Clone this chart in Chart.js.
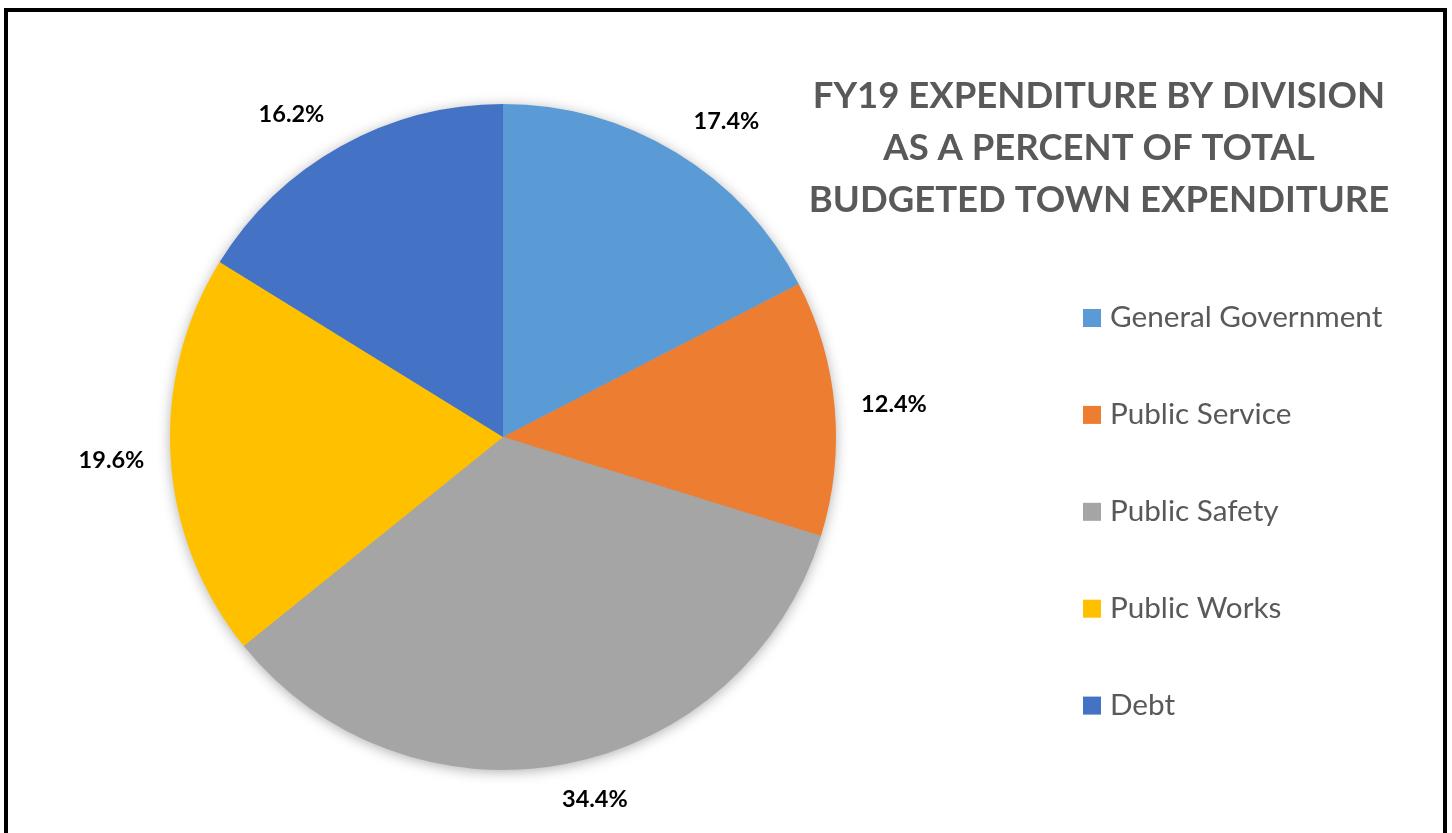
<!DOCTYPE html>
<html>
<head>
<meta charset="utf-8">
<title>FY19 Expenditure by Division</title>
<script src="https://cdn.jsdelivr.net/npm/chart.js@4"></script>
<style>
  html, body { margin: 0; padding: 0; background: #fff; overflow: hidden; }
  #wrap { position: relative; width: 1452px; height: 833px; }
  #frame {
    position: absolute; left: 4px; top: 8px;
    width: 1435px; height: 900px;
    border: 4px solid #000; border-bottom: none;
  }
  #chart { position: absolute; left: 0; top: 0; }
</style>
</head>
<body>
<div id="wrap">
  <div id="frame"></div>
  <canvas id="chart" width="1452" height="833"></canvas>
</div>
<script>
// divisions and their share of the budget (percent)
const divisions = ['General Government', 'Public Service', 'Public Safety', 'Public Works', 'Debt'];
const shares = [17.4, 12.4, 34.4, 19.6, 16.2];
const sliceColors = ['#5B9BD5', '#ED7D31', '#A5A5A5', '#FFC000', '#4472C4'];
const titleLines = ['FY19 EXPENDITURE BY DIVISION', 'AS A PERCENT OF TOTAL', 'BUDGETED TOWN EXPENDITURE'];

const FONT = 'Lato, "Open Sans", sans-serif';
const TEXT_GREY = '#595959';

// soft shadow under the whole pie, drawn once before the slices
const pieShadow = {
  id: 'pieShadow',
  beforeDatasetsDraw(chart) {
    const arc = chart.getDatasetMeta(0).data[0];
    if (!arc) return;
    const { x, y, outerRadius } = arc.getProps(['x', 'y', 'outerRadius'], true);
    const ctx = chart.ctx;
    ctx.save();
    ctx.shadowColor = 'rgba(0,0,0,0.35)';
    ctx.shadowBlur = 14;
    ctx.shadowOffsetY = 2;
    ctx.beginPath();
    ctx.arc(x, y, outerRadius - 1, 0, Math.PI * 2);
    ctx.fillStyle = '#a5a5a5';
    ctx.fill();
    ctx.restore();
  }
};

// percent labels just outside each slice
const outsideLabels = {
  id: 'outsideLabels',
  afterDatasetsDraw(chart) {
    const ctx = chart.ctx;
    const meta = chart.getDatasetMeta(0);
    ctx.save();
    ctx.font = 'bold 23.5px ' + FONT;
    ctx.fillStyle = '#000';
    ctx.textAlign = 'center';
    ctx.textBaseline = 'middle';
    meta.data.forEach((arc, i) => {
      const p = arc.getProps(['x', 'y', 'startAngle', 'endAngle', 'outerRadius'], true);
      const mid = (p.startAngle + p.endAngle) / 2;
      const ux = Math.cos(mid), uy = Math.sin(mid);
      const text = shares[i].toFixed(1) + '%';
      const w = ctx.measureText(text).width;
      const h = 20;
      const r = p.outerRadius + 26;
      const cx = p.x + ux * r + Math.tanh(ux * 4) * (w / 2 + 6 * Math.abs(uy));
      const cy = p.y + uy * r + uy * h / 2;
      ctx.fillText(text, cx, cy);
    });
    ctx.restore();
  }
};

// title block and legend on the right side
const sidePanel = {
  id: 'sidePanel',
  afterDraw(chart) {
    const ctx = chart.ctx;
    ctx.save();
    ctx.fillStyle = TEXT_GREY;
    ctx.textAlign = 'center';
    ctx.textBaseline = 'alphabetic';
    ctx.font = 'bold 36.5px ' + FONT;
    titleLines.forEach((line, i) => {
      ctx.fillText(line, 1099, 108 + i * 52);
    });

    ctx.textAlign = 'left';
    ctx.font = '29.7px ' + FONT;
    divisions.forEach((name, i) => {
      const base = 327 + i * 96.9;
      ctx.fillStyle = sliceColors[i];
      ctx.fillRect(1083, base - 18, 18, 18);
      ctx.fillStyle = TEXT_GREY;
      ctx.fillText(name, 1110, base);
    });
    ctx.restore();
  }
};

new Chart(document.getElementById('chart'), {
  type: 'pie',
  data: {
    labels: divisions,
    datasets: [{
      data: shares,
      backgroundColor: sliceColors,
      borderWidth: 0
    }]
  },
  options: {
    responsive: false,
    animation: false,
    layout: { padding: { left: 170, top: 104, right: 616, bottom: 63 } },
    plugins: {
      legend: { display: false },
      title: { display: false },
      tooltip: { enabled: false }
    }
  },
  plugins: [pieShadow, outsideLabels, sidePanel]
});
</script>
</body>
</html>
